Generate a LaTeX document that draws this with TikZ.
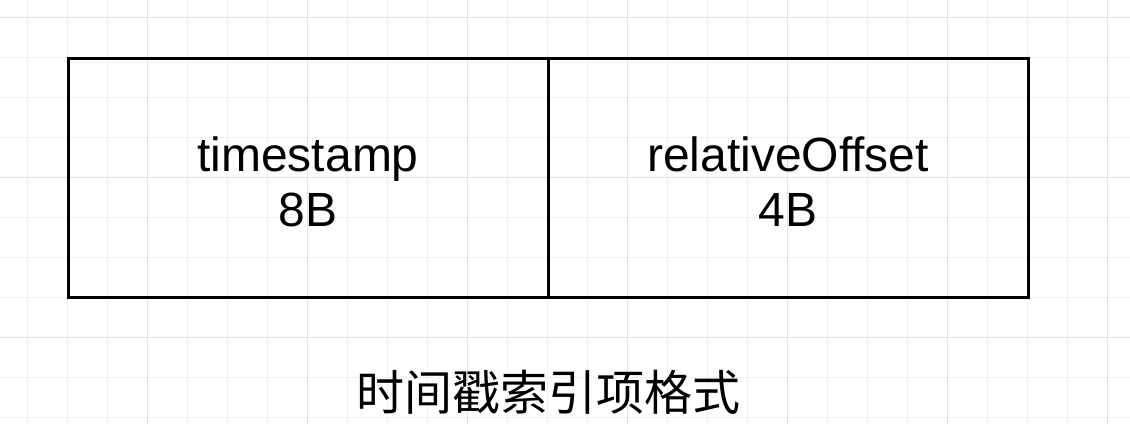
\documentclass[tikz,border=0pt]{standalone}
\usepackage{fontspec}
\setmainfont{Liberation Sans}
\newfontfamily\cjk{Noto Sans CJK SC}
\begin{document}
\begin{tikzpicture}[x=1pt,y=-1pt,
  gridminor/.style={draw=black!6,line width=1pt},
  gridmajor/.style={draw=black!11,line width=1pt},
  field/.style={draw=black,line width=3pt,minimum width=480pt,minimum height=239pt,inner sep=0pt},
  fieldtext/.style={inner sep=0pt,align=center,font=\fontsize{48}{55}\selectfont},
  caption/.style={inner sep=0pt,font=\cjk\fontsize{48}{55}\selectfont}]
\fill[white] (0,0) rectangle (1130,424);
\useasboundingbox (0,0) rectangle (1130,424);
\foreach \x in {27,67,...,1107} \draw[gridminor] (\x,0) -- (\x,424);
\foreach \y in {17,57,...,417} \draw[gridminor] (0,\y) -- (1130,\y);
\foreach \x in {147,307,...,1107} \draw[gridmajor] (\x,0) -- (\x,424);
\foreach \y in {17,177,337} \draw[gridmajor] (0,\y) -- (1130,\y);
\node[field] (ts) at (308,177.5) {};
\node[field] (ro) at (788,177.5) {};
\node[fieldtext] (tst) at ([yshift=-4pt]ts.center) {timestamp\\8B};
\node[fieldtext] (rot) at ([yshift=-4pt]ro.center) {relativeOffset\\4B};
\node[caption] (cap) at (548,392) {时间戳索引项格式};
\end{tikzpicture}
\end{document}
